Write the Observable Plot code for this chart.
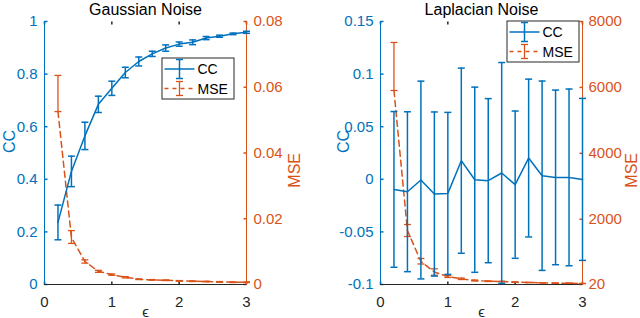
<!DOCTYPE html>
<html><head><meta charset="utf-8">
<script src="https://cdn.jsdelivr.net/npm/d3@7"></script>
<script src="https://cdn.jsdelivr.net/npm/@observablehq/plot@0.6"></script>
<style>
html,body{margin:0;padding:0;background:#fff;}
#wrap{display:flex;width:640px;height:318px;overflow:hidden;}
</style></head><body><div id="wrap"></div>
<script>
// ---------- data ----------
const eps = [0.2, 0.4, 0.6, 0.8, 1.0, 1.2, 1.4, 1.6, 1.8, 2.0, 2.2, 2.4, 2.6, 2.8, 3.0];
const xTicks = [0, 1, 2, 3];
const titles = ["Gaussian Noise", "Laplacian Noise"];
const legendLabels = ["CC", "MSE"];
const xLabel = "ϵ";
const yLabels = ["CC", "MSE"];

// Gaussian noise
const gaussCC    = [0.236, 0.430, 0.565, 0.685, 0.746, 0.806, 0.848, 0.877, 0.899, 0.914, 0.921, 0.937, 0.944, 0.953, 0.959];
const gaussCCErr = [0.066, 0.058, 0.052, 0.031, 0.027, 0.020, 0.017, 0.010, 0.012, 0.008, 0.009, 0.006, 0.004, 0.003, 0.004];
const gaussMSE   = [0.0526, 0.0143, 0.0070, 0.0040, 0.0030, 0.0022, 0.0016, 0.0014, 0.0013, 0.0011, 0.0010, 0.0009, 0.0008, 0.0007, 0.0007];
const gaussMSELo = [0.0526, 0.0125, 0.0065, 0.0037, 0.0028, 0.0020, 0.0015, 0.0013, 0.0012, 0.0010, 0.0009, 0.0008, 0.0007, 0.0006, 0.0006];
const gaussMSEHi = [0.0636, 0.0164, 0.0075, 0.0043, 0.0032, 0.0024, 0.0017, 0.0015, 0.0014, 0.0012, 0.0011, 0.0010, 0.0009, 0.0008, 0.0008];
const gaussCCTicks = [0, 0.2, 0.4, 0.6, 0.8, 1];
const gaussCCTickLabels = ["0", "0.2", "0.4", "0.6", "0.8", "1"];
const gaussMSETicks = [0, 0.02, 0.04, 0.06, 0.08];
const gaussMSETickLabels = ["0", "0.02", "0.04", "0.06", "0.08"];

// Laplacian noise
const lapCC    = [-0.0096, -0.0118, -0.0007, -0.0140, -0.0134, 0.0177, -0.0004, -0.0013, 0.0060, -0.0051, 0.0202, 0.0034, 0.0018, 0.0018, -0.0001];
const lapCCErr = [0.074, 0.076, 0.094, 0.078, 0.077, 0.088, 0.088, 0.078, 0.105, 0.070, 0.075, 0.090, 0.083, 0.084, 0.077];
const lapMSE   = [5906, 1658, 718, 399, 263, 193, 141, 120, 111, 90, 80, 71, 60, 60, 50];
const lapMSELo = [5906, 1476, 642, 302, 233, 171, 127, 110, 102, 83, 74, 66, 56, 56, 46];
const lapMSEHi = [7363, 1840, 809, 496, 293, 215, 155, 130, 120, 97, 86, 76, 64, 64, 54];
const lapCCTicks = [-0.1, -0.05, 0, 0.05, 0.1, 0.15];
const lapCCTickLabels = ["-0.1", "-0.05", "0", "0.05", "0.1", "0.15"];
const lapMSETicks = [20, 2000, 4000, 6000, 8000];
const lapMSETickLabels = ["20", "2000", "4000", "6000", "8000"];

// ---------- styling ----------
const BLUE = "#0072BD", ORANGE = "#D95319", DARK = "#262626";
const FONT = "'Liberation Sans', Arial, Helvetica, sans-serif";
const cap = {draw(c) { c.moveTo(-3.5, 0); c.lineTo(3.5, 0); }};
const tickSym = (dx, dy) => ({draw(c) { c.moveTo(0, 0); c.lineTo(dx, dy); }});

function panel(cfg) {
  const [c0, c1] = cfg.ccDomain, [m0, m1] = cfg.mseDomain;
  const toCC = m => c0 + (m - m0) / (m1 - m0) * (c1 - c0);
  const rows = eps.map((e, i) => ({
    e,
    cc: cfg.cc[i], ccLo: cfg.cc[i] - cfg.ccErr[i], ccHi: cfg.cc[i] + cfg.ccErr[i],
    mse: toCC(cfg.mse[i]), mseLo: toCC(cfg.mseLo[i]), mseHi: toCC(cfg.mseHi[i])
  }));
  const rightTicks = cfg.mseTicks.map(toCC);
  const lookup = (vals, labels) => d => labels[vals.findIndex(v => Math.abs(v - d) < 1e-9)];

  const svg = Plot.plot({
    width: 320, height: 318,
    marginLeft: cfg.ml, marginRight: cfg.mr, marginTop: 21, marginBottom: 34,
    style: {fontFamily: FONT, background: "white"},
    x: {domain: [0, 3]},
    y: {domain: cfg.ccDomain},
    marks: [
      Plot.axisX(xTicks, {tickSize: 0, tickPadding: 12, fontSize: 15, color: DARK, label: null, tickFormat: d => String(d)}),
      Plot.axisY(cfg.ccTicks, {anchor: "left", tickSize: 0, tickPadding: cfg.lpad, fontSize: 15, color: BLUE, label: null,
        tickFormat: lookup(cfg.ccTicks, cfg.ccTickLabels)}),
      Plot.axisY(rightTicks, {anchor: "right", tickSize: 0, tickPadding: cfg.rpad, fontSize: 15, color: ORANGE, label: null,
        tickFormat: lookup(rightTicks, cfg.mseTickLabels)}),
      // inward ticks
      Plot.dot(cfg.ccTicks, {y: d => d, frameAnchor: "left", symbol: tickSym(3, 0), stroke: BLUE, fill: "none"}),
      Plot.dot(rightTicks, {y: d => d, frameAnchor: "right", symbol: tickSym(-3, 0), stroke: ORANGE, fill: "none"}),
      Plot.dot(xTicks, {x: d => d, frameAnchor: "bottom", symbol: tickSym(0, -3), stroke: DARK, fill: "none"}),
      Plot.dot(xTicks, {x: d => d, frameAnchor: "top", symbol: tickSym(0, 3), stroke: DARK, fill: "none"}),
      // axis lines
      Plot.ruleY([c0], {stroke: DARK}),
      Plot.ruleX([0], {stroke: BLUE}),
      Plot.ruleX([3], {stroke: ORANGE}),
      // MSE series
      Plot.line(rows, {x: "e", y: "mse", stroke: ORANGE, strokeWidth: 1.5, strokeDasharray: "6,4"}),
      Plot.ruleX(rows, {x: "e", y1: "mseLo", y2: "mseHi", stroke: ORANGE, strokeWidth: 1.3}),
      Plot.dot(rows, {x: "e", y: "mseHi", symbol: cap, stroke: ORANGE, fill: "none", strokeWidth: 1.3}),
      Plot.dot(rows, {x: "e", y: "mseLo", symbol: cap, stroke: ORANGE, fill: "none", strokeWidth: 1.3}),
      // CC series
      Plot.line(rows, {x: "e", y: "cc", stroke: BLUE, strokeWidth: 1.5}),
      Plot.ruleX(rows, {x: "e", y1: "ccLo", y2: "ccHi", stroke: BLUE, strokeWidth: 1.5}),
      Plot.dot(rows, {x: "e", y: "ccHi", symbol: cap, stroke: BLUE, fill: "none", strokeWidth: 1.5}),
      Plot.dot(rows, {x: "e", y: "ccLo", symbol: cap, stroke: BLUE, fill: "none", strokeWidth: 1.5}),
      // texts
      Plot.text([cfg.title], {frameAnchor: "top", lineAnchor: "bottom", dy: -7, fontSize: 16, fill: "#000"}),
      Plot.text([yLabels[0]], {frameAnchor: "left", rotate: -90, dx: -cfg.lLabel, fontSize: 16, fill: BLUE, lineAnchor: "middle"}),
      Plot.text([yLabels[1]], {frameAnchor: "right", rotate: -90, dx: cfg.rLabel, fontSize: 16, fill: ORANGE, lineAnchor: "middle"}),
      Plot.text([xLabel], {frameAnchor: "bottom", lineAnchor: "bottom", dy: 32, fontSize: 15, fill: DARK})
    ]
  });

  // legend
  const s = d3.select(svg);
  const g = s.append("g").attr("transform", `translate(${cfg.legX},${cfg.legY})`);
  g.append("rect").attr("x", 0.5).attr("y", 0.5).attr("width", 72).attr("height", 41)
    .attr("fill", "white").attr("stroke", DARK).attr("stroke-width", 1);
  const items = [
    {label: legendLabels[0], color: BLUE, dash: null, y: 11.5, h: 9.5, w: 1.5},
    {label: legendLabels[1], color: ORANGE, dash: "4,4", y: 31, h: 7, w: 1.3}
  ];
  for (const it of items) {
    g.append("line").attr("x1", 3).attr("x2", 33).attr("y1", it.y).attr("y2", it.y)
      .attr("stroke", it.color).attr("stroke-width", 1.5).attr("stroke-dasharray", it.dash);
    g.append("line").attr("x1", 18).attr("x2", 18).attr("y1", it.y - it.h).attr("y2", it.y + it.h)
      .attr("stroke", it.color).attr("stroke-width", it.w);
    for (const yy of [it.y - it.h, it.y + it.h])
      g.append("line").attr("x1", 14.5).attr("x2", 21.5).attr("y1", yy).attr("y2", yy)
        .attr("stroke", it.color).attr("stroke-width", it.w);
    g.append("text").attr("x", 36).attr("y", it.y).attr("dy", "0.36em")
      .attr("text-anchor", "start").attr("font-size", 14).attr("fill", "#000").text(it.label);
  }
  return svg;
}

const wrap = document.getElementById("wrap");
wrap.appendChild(panel({
  title: titles[0], ml: 44, mr: 74, lpad: 7, rpad: 7, lLabel: 35, rLabel: 48,
  ccDomain: [0, 1], mseDomain: [0, 0.08],
  cc: gaussCC, ccErr: gaussCCErr, mse: gaussMSE, mseLo: gaussMSELo, mseHi: gaussMSEHi,
  ccTicks: gaussCCTicks, ccTickLabels: gaussCCTickLabels, mseTicks: gaussMSETicks, mseTickLabels: gaussMSETickLabels,
  legX: 161.5, legY: 57.5
}));
wrap.appendChild(panel({
  title: titles[1], ml: 60, mr: 58, lpad: 7, rpad: 6, lLabel: 37, rLabel: 49,
  ccDomain: [-0.1, 0.15], mseDomain: [20, 8000],
  cc: lapCC, ccErr: lapCCErr, mse: lapMSE, mseLo: lapMSELo, mseHi: lapMSEHi,
  ccTicks: lapCCTicks, ccTickLabels: lapCCTickLabels, mseTicks: lapMSETicks, mseTickLabels: lapMSETickLabels,
  legX: 186.5, legY: 20.5
}));
</script></body></html>
